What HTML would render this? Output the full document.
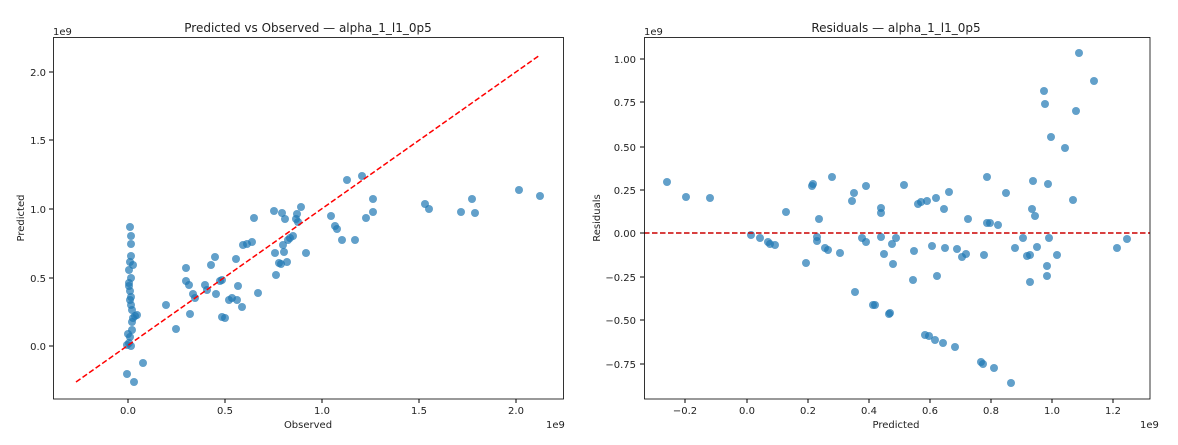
<!DOCTYPE html>
<html><head><meta charset="utf-8"><style>body{margin:0;background:#fff}svg{display:block;font-family:"DejaVu Sans","Liberation Sans",sans-serif}</style></head><body>
<svg width="1178" height="445" viewBox="0 0 1178 445">
<rect width="1178" height="445" fill="#fff"/>
<g font-size="10" fill="#222">
<!-- Left axes -->
<text x="308" y="32" font-size="12" text-anchor="middle">Predicted vs Observed — alpha_1_l1_0p5</text>
<text x="53" y="35">1e9</text>
<g text-anchor="end">
<text x="46" y="76">2.0</text><text x="46" y="144">1.5</text><text x="46" y="213">1.0</text><text x="46" y="282">0.5</text><text x="46" y="350">0.0</text>
</g>
<g stroke="#000" stroke-width="1"><line x1="49" y1="72" x2="53" y2="72"/><line x1="49" y1="140" x2="53" y2="140"/><line x1="49" y1="209" x2="53" y2="209"/><line x1="49" y1="278" x2="53" y2="278"/><line x1="49" y1="346" x2="53" y2="346"/>
<line x1="128" y1="399" x2="128" y2="403"/><line x1="225" y1="399" x2="225" y2="403"/><line x1="322" y1="399" x2="322" y2="403"/><line x1="419" y1="399" x2="419" y2="403"/><line x1="516" y1="399" x2="516" y2="403"/></g>
<g text-anchor="middle"><text x="128" y="414">0.0</text><text x="225" y="414">0.5</text><text x="322" y="414">1.0</text><text x="419" y="414">1.5</text><text x="516" y="414">2.0</text></g>
<text x="308" y="428" text-anchor="middle">Observed</text>
<text x="546" y="428">1e9</text>
<text transform="translate(24,218) rotate(-90)" text-anchor="middle">Predicted</text>
<!-- Right axes -->
<text x="896" y="32" font-size="12" text-anchor="middle">Residuals — alpha_1_l1_0p5</text>
<text x="644" y="35">1e9</text>
<g text-anchor="end">
<text x="636" y="63">1.00</text><text x="636" y="106">0.75</text><text x="636" y="151">0.50</text><text x="636" y="194">0.25</text><text x="636" y="237">0.00</text><text x="636" y="281">−0.25</text><text x="636" y="324">−0.50</text><text x="636" y="368">−0.75</text>
</g>
<g stroke="#000"><line x1="640" y1="59" x2="644" y2="59"/><line x1="640" y1="102" x2="644" y2="102"/><line x1="640" y1="147" x2="644" y2="147"/><line x1="640" y1="190" x2="644" y2="190"/><line x1="640" y1="233" x2="644" y2="233"/><line x1="640" y1="277" x2="644" y2="277"/><line x1="640" y1="320" x2="644" y2="320"/><line x1="640" y1="364" x2="644" y2="364"/>
<line x1="685" y1="399" x2="685" y2="403"/><line x1="747" y1="399" x2="747" y2="403"/><line x1="808" y1="399" x2="808" y2="403"/><line x1="869" y1="399" x2="869" y2="403"/><line x1="930" y1="399" x2="930" y2="403"/><line x1="991" y1="399" x2="991" y2="403"/><line x1="1052" y1="399" x2="1052" y2="403"/><line x1="1113" y1="399" x2="1113" y2="403"/></g>
<g text-anchor="middle"><text x="685" y="414">−0.2</text><text x="747" y="414">0.0</text><text x="808" y="414">0.2</text><text x="869" y="414">0.4</text><text x="930" y="414">0.6</text><text x="991" y="414">0.8</text><text x="1052" y="414">1.0</text><text x="1113" y="414">1.2</text></g>
<text x="896" y="428" text-anchor="middle">Predicted</text>
<text x="1140" y="428">1e9</text>
<text transform="translate(600,218) rotate(-90)" text-anchor="middle">Residuals</text>
</g>
<g fill="#1f77b4" fill-opacity="0.7">
<g id="L">
<circle cx="130" cy="227" r="4"/><circle cx="131" cy="236" r="4"/><circle cx="131" cy="244" r="4"/><circle cx="131" cy="256" r="4"/><circle cx="130" cy="262" r="4"/><circle cx="133" cy="265" r="4"/><circle cx="129" cy="270" r="4"/><circle cx="131" cy="278" r="4"/><circle cx="129" cy="283" r="4"/><circle cx="130" cy="291" r="4"/><circle cx="131" cy="297" r="4"/><circle cx="131" cy="305" r="4"/><circle cx="132" cy="310" r="4"/><circle cx="133" cy="318" r="4"/><circle cx="132" cy="322" r="4"/><circle cx="128" cy="334" r="4"/><circle cx="130" cy="337" r="4"/><circle cx="129" cy="343" r="4"/><circle cx="131" cy="346" r="4"/><circle cx="127" cy="374" r="4"/><circle cx="134" cy="382" r="4"/><circle cx="135" cy="316" r="4"/><circle cx="137" cy="315" r="4"/><circle cx="143" cy="363" r="4"/><circle cx="127" cy="345" r="4"/><circle cx="129" cy="286" r="4"/><circle cx="132" cy="330" r="4"/><circle cx="130" cy="300" r="4"/>
<circle cx="166" cy="305" r="4"/><circle cx="176" cy="329" r="4"/><circle cx="186" cy="268" r="4"/><circle cx="186" cy="281" r="4"/><circle cx="189" cy="285" r="4"/><circle cx="190" cy="314" r="4"/><circle cx="193" cy="294" r="4"/><circle cx="195" cy="298" r="4"/><circle cx="205" cy="285" r="4"/><circle cx="207" cy="290" r="4"/><circle cx="220" cy="281" r="4"/><circle cx="225" cy="318" r="4"/><circle cx="222" cy="317" r="4"/><circle cx="211" cy="265" r="4"/><circle cx="215" cy="257" r="4"/><circle cx="216" cy="294" r="4"/><circle cx="222" cy="280" r="4"/><circle cx="229" cy="300" r="4"/><circle cx="232" cy="298" r="4"/><circle cx="236" cy="259" r="4"/><circle cx="237" cy="300" r="4"/><circle cx="242" cy="307" r="4"/><circle cx="238" cy="286" r="4"/><circle cx="243" cy="245" r="4"/><circle cx="247" cy="244" r="4"/><circle cx="252" cy="242" r="4"/><circle cx="254" cy="218" r="4"/><circle cx="258" cy="293" r="4"/><circle cx="276" cy="275" r="4"/><circle cx="274" cy="211" r="4"/><circle cx="275" cy="253" r="4"/><circle cx="279" cy="263" r="4"/><circle cx="281" cy="264" r="4"/><circle cx="282" cy="213" r="4"/><circle cx="285" cy="219" r="4"/><circle cx="283" cy="245" r="4"/><circle cx="284" cy="252" r="4"/><circle cx="287" cy="262" r="4"/><circle cx="290" cy="238" r="4"/><circle cx="288" cy="240" r="4"/><circle cx="293" cy="236" r="4"/><circle cx="296" cy="219" r="4"/><circle cx="297" cy="214" r="4"/><circle cx="301" cy="207" r="4"/><circle cx="298" cy="222" r="4"/><circle cx="306" cy="253" r="4"/><circle cx="331" cy="216" r="4"/><circle cx="335" cy="226" r="4"/><circle cx="337" cy="229" r="4"/><circle cx="342" cy="240" r="4"/><circle cx="347" cy="180" r="4"/><circle cx="355" cy="240" r="4"/><circle cx="362" cy="176" r="4"/><circle cx="366" cy="218" r="4"/><circle cx="373" cy="199" r="4"/><circle cx="373" cy="212" r="4"/><circle cx="425" cy="204" r="4"/><circle cx="429" cy="209" r="4"/><circle cx="461" cy="212" r="4"/><circle cx="472" cy="199" r="4"/><circle cx="475" cy="213" r="4"/><circle cx="519" cy="190" r="4"/><circle cx="540" cy="196" r="4"/>
</g>
<circle cx="667" cy="182" r="4"/><circle cx="686" cy="197" r="4"/><circle cx="710" cy="198" r="4"/><circle cx="751" cy="235" r="4"/><circle cx="760" cy="238" r="4"/><circle cx="768" cy="242" r="4"/><circle cx="770" cy="244" r="4"/><circle cx="775" cy="245" r="4"/><circle cx="786" cy="212" r="4"/><circle cx="806" cy="263" r="4"/><circle cx="812" cy="186" r="4"/><circle cx="813" cy="184" r="4"/><circle cx="817" cy="241" r="4"/><circle cx="817" cy="237" r="4"/><circle cx="819" cy="219" r="4"/><circle cx="825" cy="248" r="4"/><circle cx="828" cy="250" r="4"/><circle cx="832" cy="177" r="4"/><circle cx="840" cy="253" r="4"/><circle cx="852" cy="201" r="4"/><circle cx="854" cy="193" r="4"/><circle cx="855" cy="292" r="4"/><circle cx="862" cy="238" r="4"/><circle cx="866" cy="242" r="4"/><circle cx="866" cy="186" r="4"/><circle cx="873" cy="305" r="4"/><circle cx="875" cy="305" r="4"/><circle cx="881" cy="208" r="4"/><circle cx="881" cy="213" r="4"/><circle cx="881" cy="237" r="4"/><circle cx="884" cy="254" r="4"/><circle cx="890" cy="313" r="4"/><circle cx="889" cy="314" r="4"/><circle cx="892" cy="244" r="4"/><circle cx="893" cy="264" r="4"/><circle cx="896" cy="238" r="4"/><circle cx="904" cy="185" r="4"/><circle cx="913" cy="280" r="4"/><circle cx="914" cy="251" r="4"/><circle cx="918" cy="204" r="4"/><circle cx="921" cy="202" r="4"/><circle cx="925" cy="335" r="4"/><circle cx="927" cy="201" r="4"/><circle cx="929" cy="336" r="4"/><circle cx="932" cy="246" r="4"/><circle cx="935" cy="340" r="4"/><circle cx="936" cy="198" r="4"/><circle cx="937" cy="276" r="4"/><circle cx="943" cy="343" r="4"/><circle cx="944" cy="209" r="4"/><circle cx="945" cy="248" r="4"/><circle cx="949" cy="192" r="4"/><circle cx="955" cy="347" r="4"/><circle cx="957" cy="249" r="4"/><circle cx="962" cy="257" r="4"/><circle cx="966" cy="254" r="4"/><circle cx="968" cy="219" r="4"/><circle cx="981" cy="362" r="4"/><circle cx="983" cy="364" r="4"/><circle cx="984" cy="255" r="4"/><circle cx="987" cy="223" r="4"/><circle cx="987" cy="177" r="4"/><circle cx="990" cy="223" r="4"/><circle cx="994" cy="368" r="4"/><circle cx="998" cy="225" r="4"/><circle cx="1006" cy="193" r="4"/><circle cx="1011" cy="383" r="4"/><circle cx="1015" cy="248" r="4"/><circle cx="1023" cy="238" r="4"/><circle cx="1027" cy="256" r="4"/><circle cx="1030" cy="255" r="4"/><circle cx="1030" cy="282" r="4"/><circle cx="1033" cy="181" r="4"/><circle cx="1032" cy="209" r="4"/><circle cx="1035" cy="216" r="4"/><circle cx="1037" cy="247" r="4"/><circle cx="1044" cy="91" r="4"/><circle cx="1045" cy="104" r="4"/><circle cx="1047" cy="266" r="4"/><circle cx="1048" cy="184" r="4"/><circle cx="1049" cy="238" r="4"/><circle cx="1047" cy="276" r="4"/><circle cx="1057" cy="255" r="4"/><circle cx="1051" cy="137" r="4"/><circle cx="1065" cy="148" r="4"/><circle cx="1073" cy="200" r="4"/><circle cx="1076" cy="111" r="4"/><circle cx="1079" cy="53" r="4"/><circle cx="1094" cy="81" r="4"/><circle cx="1117" cy="248" r="4"/><circle cx="1127" cy="239" r="4"/>
</g>
<line x1="76" y1="382" x2="540" y2="55" stroke="#f00" stroke-width="1.5" stroke-dasharray="5.5,2.5"/>
<line x1="644" y1="233" x2="1150" y2="233" stroke="#c00" stroke-width="1.5" stroke-dasharray="5.5,2.5"/>
<rect x="53.5" y="37.5" width="510" height="361.5" fill="none" stroke="#000" stroke-width="0.8"/>
<rect x="644.5" y="37.5" width="505.5" height="361.5" fill="none" stroke="#000" stroke-width="0.8"/>
</svg>
</body></html>
